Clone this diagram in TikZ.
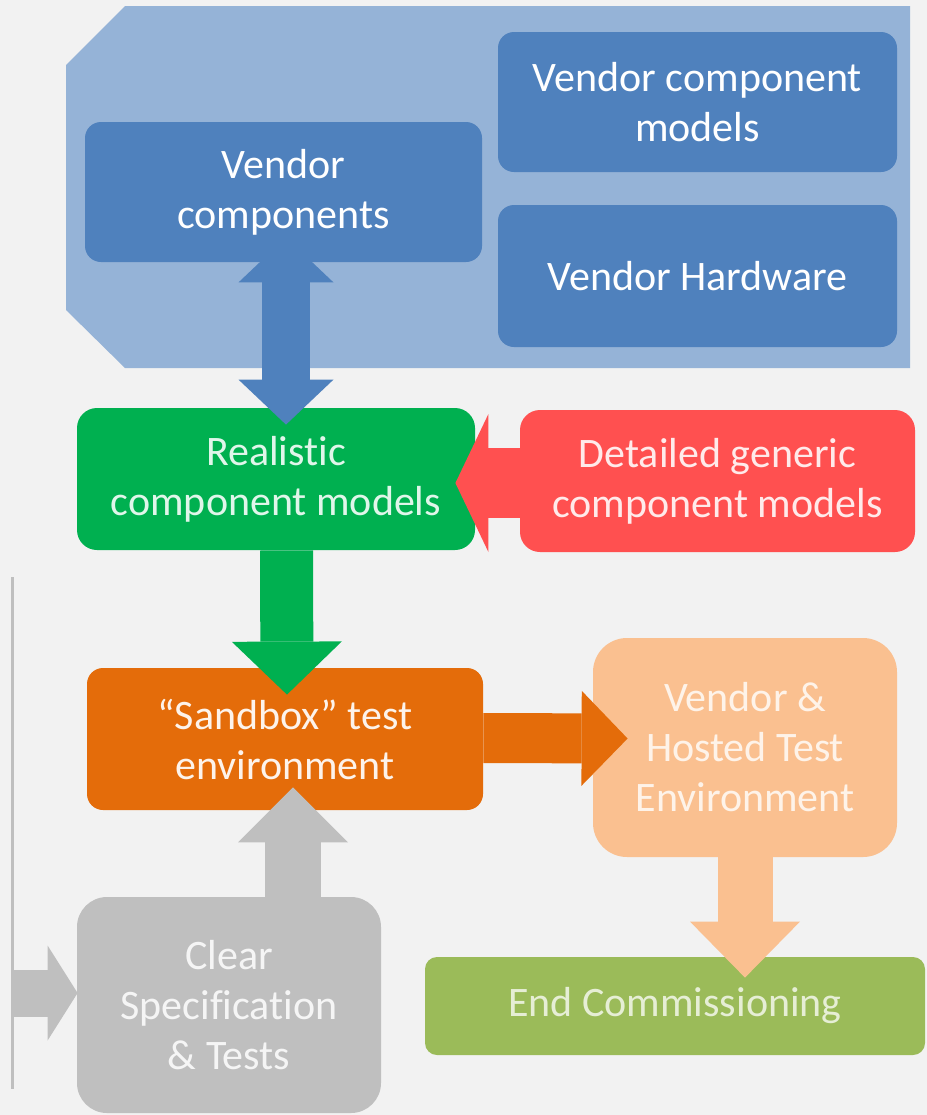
\documentclass[tikz,border=0pt]{standalone}
\usepackage{fontspec}
\setmainfont{Carlito}[Ligatures=NoCommon]
\usetikzlibrary{arrows.meta,calc}
\definecolor{bgray}{HTML}{F2F2F2}
\definecolor{panelblue}{HTML}{95B3D7}
\definecolor{boxblue}{HTML}{4F81BD}
\definecolor{boxgreen}{HTML}{00B050}
\definecolor{boxred}{HTML}{FF5050}
\definecolor{boxorange}{HTML}{E46C0A}
\definecolor{boxpeach}{HTML}{FAC090}
\definecolor{boxolive}{HTML}{9BBB59}
\definecolor{boxgray}{HTML}{BFBFBF}
\pgfdeclarelayer{background}
\pgfdeclarelayer{foreground}
\pgfsetlayers{background,main,foreground}
\tikzset{
  box/.style={rounded corners=8pt, inner sep=0pt, align=center, text=white,
    font=\fontsize{21}{25}\selectfont},
  flow/.style n args={3}{line width=#1,
    -{Triangle[line width=0pt, width=#2, length=#3]}},
  flowboth/.style n args={3}{line width=#1,
    {Triangle[line width=0pt, width=#2, length=#3]}-{Triangle[line width=0pt, width=#2, length=#3]}},
}

\begin{document}
\begin{tikzpicture}[x=0.5pt, y=-0.5pt]
  \begin{pgfonlayer}{background}
    \fill[bgray] (0,0) rectangle (927,1115);
    \fill[panelblue] (125,6) -- (910,6) -- (910,368) -- (125,368) -- (66,310) -- (66,65) -- cycle;
    \draw[boxgray, line width=1.5pt] (12,577) -- (12,1089);
  \end{pgfonlayer}
  \useasboundingbox (0,0) rectangle (927,1115);

  % vendor side
  \begin{pgfonlayer}{foreground}
    \node[box, fill=boxblue, minimum width=198.5pt, minimum height=70pt] (vc) at (283.5,192) {Vendor\\components};
    \node[box, fill=boxblue, minimum width=199.5pt, minimum height=70pt] (vcm) at (697.5,102) {Vendor component\\models};
    \node[box, fill=boxblue, minimum width=199.5pt, minimum height=71pt] (vhw) at (697.5,276) {Vendor Hardware};
  \end{pgfonlayer}

  % models and test environments
  \node[box, rounded corners=10pt, fill=boxgreen, text=white!88!boxgreen, minimum width=199pt, minimum height=71pt] (real) at (276,479) {Realistic\\component models};
  \node[box, rounded corners=10pt, fill=boxred, text=white!88!boxred, minimum width=197.5pt, minimum height=71pt] (gen) at (717.5,481) {Detailed generic\\component models};
  \node[box, fill=boxorange, text=white!92!boxorange, minimum width=198pt, minimum height=71pt] (sand) at (285,739) {``Sandbox'' test\\environment};
  \node[box, rounded corners=17pt, fill=boxpeach, text=white!80!boxpeach, minimum width=152pt, minimum height=109.5pt] (host) at (745,747.5) {Vendor \&\\Hosted Test\\Environment};
  \node[box, rounded corners=15pt, fill=boxgray, text=white!85!boxgray, minimum width=152pt, minimum height=108pt] (clear) at (229,1005) {Clear\\Specification\\\& Tests};
  \node[box, rounded corners=6pt, fill=boxolive, text=white!75!boxolive, minimum width=250pt, minimum height=49pt] (endc) at (675,1006) {End Commissioning};
  \coordinate (feed) at (12,993);

  % block arrows
  \draw[boxblue, flowboth={24pt}{47.5pt}{22.5pt}] ($(vc.south)+(2.5,-25)$) -- ($(real.north)+(10,17)$);
  \draw[boxred, flow={35pt}{69pt}{16.5pt}] ($(gen.west)+(0,2)$) -- ($(real.east)+(-20,4)$);
  \draw[boxgreen, flow={26.5pt}{55pt}{26.5pt}] ($(real.south)+(10.5,0)$) -- ($(sand.north)+(2,27)$);
  \draw[boxorange, flow={25pt}{47.5pt}{23pt}] ($(sand.east)+(0,-1)$) -- ($(host.west)+(35,-9)$);
  \draw[boxpeach, flow={27.5pt}{55pt}{28pt}] ($(host.south)+(0,0)$) -- ($(endc.north)+(70,21)$);
  \draw[boxgray, flow={28pt}{55pt}{27.5pt}] ($(clear.north)+(64,0)$) -- ($(sand.south)+(8,-23)$);
  \draw[boxgray, flow={23.5pt}{47.5pt}{15pt}] (feed) -- ($(clear.west)+(1,-12)$);
\end{tikzpicture}
\end{document}
